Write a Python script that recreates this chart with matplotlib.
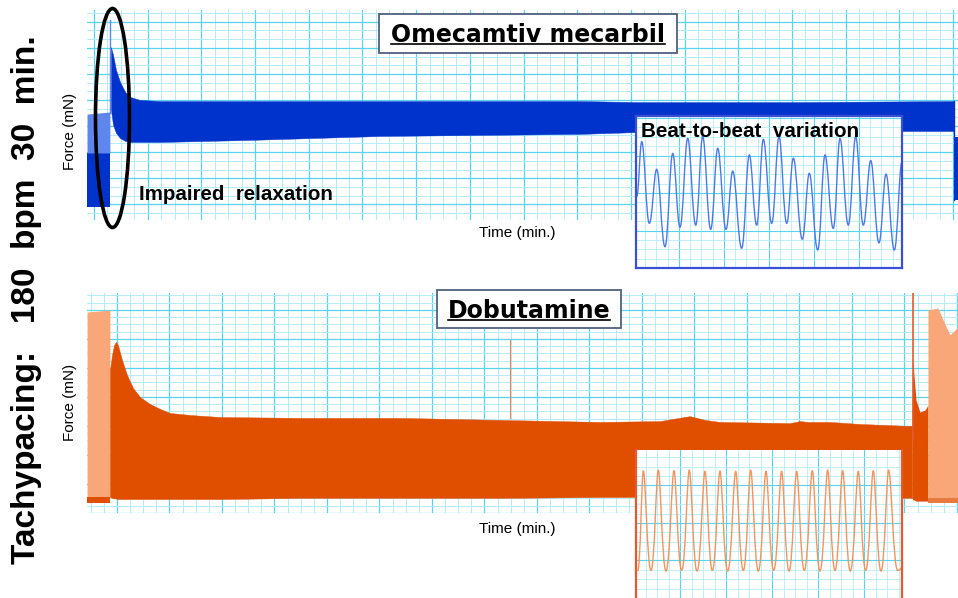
import matplotlib
matplotlib.use("Agg")
import matplotlib.pyplot as plt
from matplotlib.patches import Ellipse, Rectangle, PathPatch
from matplotlib.path import Path
from matplotlib.ticker import MultipleLocator
from matplotlib.lines import Line2D

# ---------------- data ----------------
# Top recording: Omecamtiv mecarbil (time in min, force in mN)
om_base_t = [-0.26, 0.59]
om_base_top = [4.46, 4.54]
om_base_mid = [2.97, 2.97]
om_base_bot = [0.90, 0.90]
om_spike_t = 0.60
om_spike_y = [4.50, 8.06]
om_t = [0.63, 0.71, 0.82, 0.97, 1.16, 1.34, 1.71, 2.46, 5.81, 10.65, 18.10, 20.19, 26.29, 32.03]
om_upper = [7.03, 6.72, 6.15, 5.69, 5.31, 5.12, 5.00, 4.96, 4.96, 4.96, 4.96, 4.92, 4.92, 4.96]
om_lower = [4.62, 4.04, 3.74, 3.54, 3.43, 3.39, 3.39, 3.39, 3.47, 3.62, 3.70, 3.77, 3.81, 3.81]
om_wash_t = [32.03, 32.18]
om_wash_upper = [3.58, 3.58]
om_wash_lower = [1.17, 1.17]

# Inset: beat-to-beat variation (time in s, force in mN), alternating extrema
om_beat_t = [0.016, 0.127, 0.296, 0.460, 0.644, 0.816, 0.978, 1.149, 1.327, 1.482, 1.660,
             1.816, 2.000, 2.149, 2.349, 2.518, 2.682, 2.829, 3.016, 3.178, 3.349, 3.496,
             3.696, 3.851, 4.038, 4.200, 4.384, 4.533, 4.718, 4.882, 5.051, 5.216, 5.400,
             5.556, 5.740, 5.911]
om_beat_f = [2.38, 4.21, 1.49, 3.29, 0.71, 3.82, 1.36, 4.32, 1.43, 4.38, 1.29,
             3.99, 1.29, 3.23, 0.66, 3.77, 1.43, 4.29, 1.49, 4.38, 1.49, 3.66,
             0.96, 3.16, 0.60, 3.77, 1.32, 4.32, 1.43, 4.38, 1.43, 3.58, 0.84,
             3.13, 0.60, 3.54]

# Bottom recording: Dobutamine
db_base_t = [-1.14, -0.27]
db_base_top = [6.93, 7.00]
db_base_mid = [0.55, 0.55]
db_base_bot = [0.35, 0.35]
db_t = [-0.267, -0.190, -0.114, -0.038, 0.038, 0.190, 0.381, 0.610, 0.876, 1.257, 1.638,
        2.019, 2.781, 3.924, 6.971, 10.781, 14.590, 18.400, 20.686, 21.143, 21.829,
        22.400, 22.971, 25.638, 26.019, 26.324, 27.162, 28.305, 30.286]
db_upper = [4.93, 5.45, 5.79, 5.90, 5.79, 5.28, 4.76, 4.31, 4.00, 3.76, 3.59,
            3.45, 3.38, 3.31, 3.28, 3.28, 3.21, 3.14, 3.17, 3.24, 3.34,
            3.21, 3.14, 3.10, 3.17, 3.14, 3.14, 3.07, 3.00]
db_lower = [0.55, 0.52, 0.50, 0.50, 0.48, 0.48, 0.48, 0.48, 0.48, 0.48, 0.48,
            0.48, 0.48, 0.48, 0.52, 0.52, 0.52, 0.55, 0.55, 0.55, 0.55,
            0.55, 0.55, 0.55, 0.55, 0.55, 0.55, 0.55, 0.52]
db_spike_t = 14.97
db_spike_y = [3.28, 5.97]
db_stop_t = 30.32
db_stop_y = [2.52, 7.59]
db_post_t = [30.286, 30.324, 30.362, 30.438, 30.590, 30.781, 30.895]
db_post_upper = [3.00, 5.28, 4.76, 3.90, 3.48, 3.55, 3.72]
db_post_lower = [0.52, 0.45, 0.45, 0.41, 0.41, 0.41, 0.41]
db_wash_t = [30.895, 31.086, 31.276, 31.505, 31.733, 31.924, 32.038]
db_wash_upper = [7.00, 7.03, 7.07, 6.59, 6.14, 6.31, 6.41]
db_wash_mid = [0.52, 0.52, 0.52, 0.52, 0.52, 0.52, 0.52]
db_wash_lower = [0.35, 0.35, 0.35, 0.35, 0.35, 0.35, 0.35]

# Inset: regular beats
db_beat_t = [0.037, 0.159, 0.326, 0.485, 0.652, 0.826, 0.993, 1.159, 1.326, 1.500, 1.659,
             1.826, 1.993, 2.167, 2.333, 2.493, 2.659, 2.826, 2.993, 3.167, 3.326, 3.493,
             3.659, 3.833, 4.000, 4.167, 4.326, 4.493, 4.659, 4.833, 4.993, 5.159, 5.326,
             5.493, 5.689, 5.783]
db_beat_f = [0.90, 4.24, 0.92, 4.26, 0.90, 4.24, 0.92, 4.26, 0.90, 4.22, 0.92,
             4.23, 0.90, 4.22, 0.92, 4.26, 0.90, 4.22, 0.92, 4.22, 0.90, 4.22,
             0.92, 4.24, 0.90, 4.26, 0.92, 4.24, 0.90, 4.22, 0.92, 4.24, 0.90,
             4.26, 0.92, 1.00]

# ---------------- styling ----------------
W, H = 958, 598
GRID_MAJ = "#58d4ef"
GRID_MIN = "#b4ecf8"
BLUE = "#0033cc"
LBLUE = "#5f86ee"
IBLUE = "#4d79e8"
ORANGE = "#e04f00"
LORANGE = "#f9a678"
IORANGE = "#f4945e"
RED = "#e8582c"

fig = plt.figure(figsize=(W / 100, H / 100), dpi=100)
fig.patch.set_facecolor("white")


def frect(x0, y0, x1, y1):
    return [x0 / W, 1 - y1 / H, (x1 - x0) / W, (y1 - y0) / H]


def style_grid(ax, xmaj, xmin, ymaj, ymin, xoff=0.0, lwmaj=0.9, lwmin=0.7):
    ax.xaxis.set_major_locator(MultipleLocator(xmaj, offset=xoff))
    ax.xaxis.set_minor_locator(MultipleLocator(xmin, offset=xoff))
    ax.yaxis.set_major_locator(MultipleLocator(ymaj))
    ax.yaxis.set_minor_locator(MultipleLocator(ymin))
    ax.grid(True, which="minor", color=GRID_MIN, lw=lwmin)
    ax.grid(True, which="major", color=GRID_MAJ, lw=lwmaj)
    ax.set_axisbelow(True)
    ax.tick_params(which="both", length=0, labelbottom=False, labelleft=False)
    for s in ax.spines.values():
        s.set_visible(False)


def beat_path(ts, fs, h_peak, h_trough):
    verts = [(ts[0], fs[0])]
    codes = [Path.MOVETO]
    for i in range(len(ts) - 1):
        x0, y0, x1, y1 = ts[i], fs[i], ts[i + 1], fs[i + 1]
        dx = x1 - x0
        h0 = h_peak if y0 > y1 else h_trough
        h1 = h_peak if y1 > y0 else h_trough
        verts += [(x0 + h0 * dx, y0), (x1 - h1 * dx, y1), (x1, y1)]
        codes += [Path.CURVE4] * 3
    return Path(verts, codes)


# ---------------- top panel ----------------
ax1 = fig.add_axes(frect(87, 10, 958, 220))
ax1.set_xlim(-0.261, 32.18)
ax1.set_ylim(0.40, 8.45)
style_grid(ax1, 2, 0.5, 1, 1 / 3)
ax1.fill_between(om_base_t, om_base_bot, om_base_mid, color=BLUE, lw=0)
ax1.fill_between(om_base_t, om_base_mid, om_base_top, color=LBLUE, lw=0)
ax1.plot([om_spike_t, om_spike_t], om_spike_y, color=LBLUE, lw=1)
ax1.fill_between(om_t, om_lower, om_upper, color=BLUE, lw=0.3, edgecolor=BLUE)
ax1.fill_between(om_wash_t, om_wash_lower, om_wash_upper, color=BLUE, lw=0)
ax1.plot([om_wash_t[0], om_wash_t[0]], [om_wash_lower[0], om_upper[-1]], color=BLUE, lw=1)

# top inset
axi1 = fig.add_axes(frect(636, 116, 902, 268))
axi1.set_xlim(0, 5.911)
axi1.set_ylim(0, 5.067)
style_grid(axi1, 1, 0.25, 1.25, 0.3125, xoff=0.95, lwmaj=0.8, lwmin=0.6)
axi1.set_facecolor("white")
for s in axi1.spines.values():
    s.set_visible(True)
    s.set_color("#3a4fd6")
    s.set_linewidth(1.6)
axi1.add_patch(PathPatch(beat_path(om_beat_t, om_beat_f, 0.38, 0.42),
                         fill=False, edgecolor=IBLUE, lw=1.0))

# ---------------- bottom panel ----------------
ax2 = fig.add_axes(frect(87, 293, 958, 513))
ax2.set_xlim(-1.143, 32.04)
ax2.set_ylim(0, 7.586)
style_grid(ax2, 2, 0.5, 1, 0.25)
ax2.fill_between(db_base_t, db_base_mid, db_base_top, color=LORANGE, lw=0)
ax2.fill_between(db_base_t, db_base_bot, db_base_mid, color=ORANGE, lw=0)
ax2.fill_between(db_t, db_lower, db_upper, color=ORANGE, lw=0.3, edgecolor=ORANGE)
ax2.plot([db_spike_t, db_spike_t], db_spike_y, color="#f08050", lw=0.8)
ax2.fill_between(db_post_t, db_post_lower, db_post_upper, color=ORANGE, lw=0)
ax2.plot([db_stop_t, db_stop_t], db_stop_y, color=RED, lw=1.2)
ax2.fill_between(db_wash_t, db_wash_mid, db_wash_upper, color=LORANGE, lw=0)
ax2.fill_between(db_wash_t, db_wash_lower, db_wash_mid, color="#e87a40", lw=0)

# bottom inset
axi2 = fig.add_axes(frect(636, 450, 902, 598))
axi2.set_xlim(0, 5.783)
axi2.set_ylim(0, 4.933)
style_grid(axi2, 1, 0.25, 1.25, 0.3125, xoff=0.957, lwmaj=0.8, lwmin=0.6)
axi2.set_facecolor("white")
for side in ("left", "right"):
    axi2.spines[side].set_visible(True)
    axi2.spines[side].set_color(RED)
    axi2.spines[side].set_linewidth(1.6)
axi2.add_patch(PathPatch(beat_path(db_beat_t, db_beat_f, 0.30, 0.50),
                         fill=False, edgecolor=IORANGE, lw=1.0))

# ---------------- annotations ----------------
def fxy(px, py):
    return (px / W, 1 - py / H)


# title boxes
for (x0, y0, x1, y1) in [(379, 14, 677, 53), (437, 290, 621, 328)]:
    fig.add_artist(Rectangle(fxy(x0, y1), (x1 - x0) / W, (y1 - y0) / H,
                             transform=fig.transFigure, facecolor="white",
                             edgecolor="#51607e", lw=1.3, zorder=5))

titles = []
titles.append(fig.text(*fxy(528, 41.7), "Omecamtiv mecarbil", ha="center", va="baseline",
                       fontsize=17, fontweight="bold", family="DejaVu Sans", zorder=6))
titles.append(fig.text(*fxy(529, 317.5), "Dobutamine", ha="center", va="baseline",
                       fontsize=17, fontweight="bold", family="DejaVu Sans", zorder=6))

fig.text(*fxy(139, 200), "Impaired  relaxation", ha="left", va="baseline",
         fontsize=14.8, fontweight="bold", family="Liberation Sans", zorder=6)
fig.text(*fxy(641, 136.7), "Beat-to-beat  variation", ha="left", va="baseline",
         fontsize=14.9, fontweight="bold", family="Liberation Sans", zorder=6)

for py in (236.7, 533.5):
    fig.text(*fxy(517, py), "Time (min.)", ha="center", va="baseline",
             fontsize=11, family="Liberation Sans", zorder=6)
for py in (131, 402):
    fig.text(*fxy(70, py), "Force (mN)", ha="center", va="center", rotation=90,
             fontsize=11, family="Liberation Sans", zorder=6)

fig.text(*fxy(27, 299.5), "Tachypacing:   180  bpm  30  min.", ha="center", va="center",
         rotation=90, fontsize=24, fontweight="bold", family="Liberation Sans", zorder=6)

fig.add_artist(Ellipse(fxy(112.5, 118), 34 / W, 219 / H, transform=fig.transFigure,
                       fill=False, edgecolor="black", lw=2.6, zorder=8))

# underline the titles
fig.canvas.draw()
r = fig.canvas.get_renderer()
for t in titles:
    bb = t.get_window_extent(r)
    _, by = fig.transFigure.transform(t.get_position())
    yl = (by - 2.5) / H
    fig.add_artist(Line2D([bb.x0 / W, bb.x1 / W], [yl, yl], transform=fig.transFigure,
                          color="black", lw=1.2, zorder=7))

fig.savefig("out.png", dpi=100)
